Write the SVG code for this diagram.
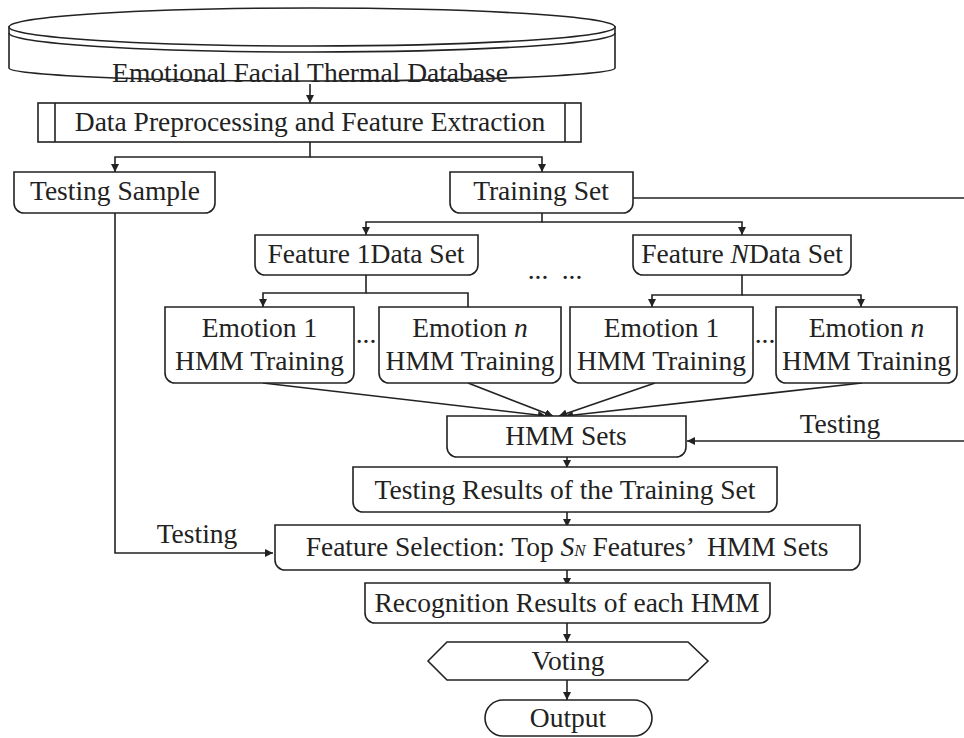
<svg xmlns="http://www.w3.org/2000/svg" width="964" height="738" viewBox="0 0 964 738">
<style>
.s{fill:#fff;stroke:#222;stroke-width:1.6}
.l{fill:none;stroke:#222;stroke-width:1.6}
text{font-family:"Liberation Serif","Times New Roman",serif;font-size:27.5px;fill:#222;text-anchor:middle}
.i{font-style:italic}
</style>
<defs>
<marker id="ah" markerUnits="userSpaceOnUse" markerWidth="9" markerHeight="8" refX="8" refY="4" orient="auto">
<path d="M0,0 L8,4 L0,8 Z" fill="#222"/>
</marker>
</defs>
<rect width="964" height="738" fill="#fff"/>

<g id="connectors" class="l" marker-end="url(#ah)">
<path d="M310,84 V103"/>
<path d="M310,142 V157 H115 V172"/>
<path d="M310,157 H542 V172"/>
<path d="M633,198 H964" marker-end="none"/>
<path d="M964,441 H687"/>
<path d="M542,213 V222 H366 V235"/>
<path d="M542,222 H742 V235"/>
<path d="M366,275 V293 H263 V307"/>
<path d="M366,293 H468 V307" marker-end="none"/>
<path d="M742,275 V295 H652 V307"/>
<path d="M742,295 H861 V307"/>
<path d="M263,383 L546,416"/>
<path d="M468,383 L553,416"/>
<path d="M655,383 L559,416"/>
<path d="M862,383 L565,416"/>
<path d="M567,457 V468"/>
<path d="M567,512 V527"/>
<path d="M567,570 V586"/>
<path d="M567,623 V642"/>
<path d="M567,680 V700"/>
<path d="M115,213 V553 H273"/>
</g>

<g id="database">
<path class="s" d="M9,27 V68 A303,13 0 0 0 615,68 V27 Z"/>
<ellipse class="s" cx="312" cy="27" rx="303" ry="19"/>
<path class="l" d="M9,33 A303,19 0 0 0 615,33"/>
<text x="310" y="82">Emotional Facial Thermal Database</text>
</g>

<g id="preprocessing">
<rect class="s" x="38" y="103" width="543" height="39"/>
<path class="l" d="M55,103 V142 M565,103 V142"/>
<text x="310" y="131">Data Preprocessing and Feature Extraction</text>
</g>

<g id="testing-sample">
<path class="s" d="M14,172 H215 V203 A10,10 0 0 1 205,213 H24 A10,10 0 0 1 14,203 Z"/>
<text x="115" y="200">Testing Sample</text>
</g>

<g id="training-set">
<path class="s" d="M450,172 H633 V203 A10,10 0 0 1 623,213 H460 A10,10 0 0 1 450,203 Z"/>
<text x="541" y="200">Training Set</text>
</g>

<g id="feature-1">
<path class="s" d="M255,235 H478 V265 A10,10 0 0 1 468,275 H265 A10,10 0 0 1 255,265 Z"/>
<text x="366" y="263">Feature 1Data Set</text>
</g>

<g id="feature-n">
<path class="s" d="M633,235 H851 V265 A10,10 0 0 1 841,275 H643 A10,10 0 0 1 633,265 Z"/>
<text x="742" y="263">Feature <tspan class="i">N</tspan>Data Set</text>
</g>

<g id="dots-mid">
<text x="538" y="279">...</text>
<text x="572" y="279">...</text>
</g>

<g id="emotion-1a">
<path class="s" d="M165,307 H354 V373 A10,10 0 0 1 344,383 H175 A10,10 0 0 1 165,373 Z"/>
<text x="259.5" y="337">Emotion 1</text>
<text x="259.5" y="370">HMM Training</text>
</g>
<text x="366" y="343">...</text>
<g id="emotion-na">
<path class="s" d="M379,307 H561 V373 A10,10 0 0 1 551,383 H389 A10,10 0 0 1 379,373 Z"/>
<text x="470" y="337">Emotion <tspan class="i">n</tspan></text>
<text x="470" y="370">HMM Training</text>
</g>
<g id="emotion-1b">
<path class="s" d="M570,307 H753 V373 A10,10 0 0 1 743,383 H580 A10,10 0 0 1 570,373 Z"/>
<text x="661.5" y="337">Emotion 1</text>
<text x="661.5" y="370">HMM Training</text>
</g>
<text x="765" y="343">...</text>
<g id="emotion-nb">
<path class="s" d="M776,307 H957 V373 A10,10 0 0 1 947,383 H786 A10,10 0 0 1 776,373 Z"/>
<text x="866.5" y="337">Emotion <tspan class="i">n</tspan></text>
<text x="866.5" y="370">HMM Training</text>
</g>

<g id="hmm-sets">
<path class="s" d="M447,416 H686 V447 A10,10 0 0 1 676,457 H457 A10,10 0 0 1 447,447 Z"/>
<text x="566" y="445">HMM Sets</text>
</g>
<text x="840" y="433">Testing</text>

<g id="testing-results">
<path class="s" d="M353,467 H777 V502 A10,10 0 0 1 767,512 H363 A10,10 0 0 1 353,502 Z"/>
<text x="565" y="499">Testing Results of the Training Set</text>
</g>

<g id="feature-selection">
<path class="s" d="M275,525 H860 V560 A10,10 0 0 1 850,570 H285 A10,10 0 0 1 275,560 Z"/>
<text x="567" y="556">Feature Selection: Top <tspan class="i">S</tspan><tspan class="i" font-size="17">N</tspan> Features’<tspan dx="12">HMM Sets</tspan></text>
</g>
<text x="197" y="543">Testing</text>

<g id="recognition">
<path class="s" d="M365,583 H770 V613 A10,10 0 0 1 760,623 H375 A10,10 0 0 1 365,613 Z"/>
<text x="567" y="612">Recognition Results of each HMM</text>
</g>

<g id="voting">
<path class="s" d="M428,661 L447,642 H688 L708,661 L688,680 H447 Z"/>
<text x="568" y="670">Voting</text>
</g>

<g id="output">
<rect class="s" x="485" y="700" width="167" height="36" rx="18" ry="18"/>
<text x="568" y="727">Output</text>
</g>
</svg>
